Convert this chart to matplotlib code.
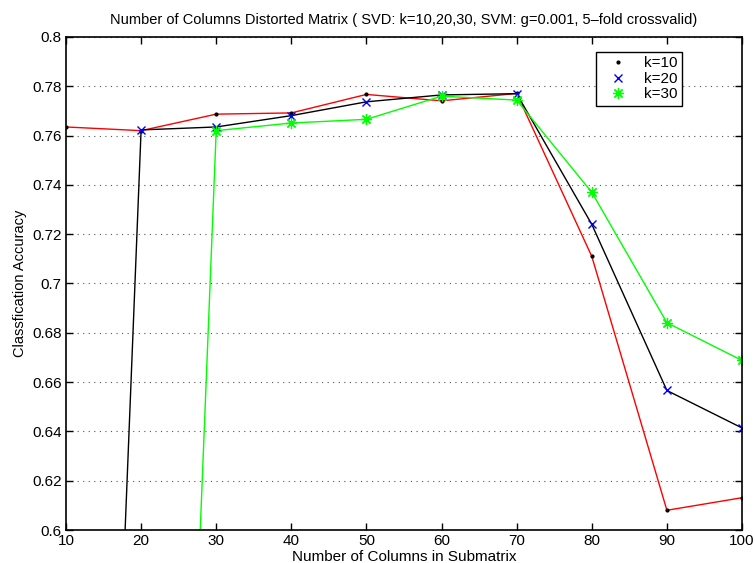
import numpy as np
import matplotlib.pyplot as plt

plt.rcParams['font.family'] = ['Liberation Sans', 'DejaVu Sans']

# Number of columns in the submatrix
cols = [10, 20, 30, 40, 50, 60, 70, 80, 90, 100]

# Classification accuracy for each SVD rank (0 = no result)
acc_k10 = [0.7635, 0.7620, 0.7687, 0.7692, 0.7767, 0.7741, 0.7771, 0.7110, 0.6080, 0.6131]
acc_k20 = [0.0, 0.7623, 0.7635, 0.7681, 0.7737, 0.7765, 0.7770, 0.7240, 0.6566, 0.6414]
acc_k30 = [0.0, 0.0, 0.7620, 0.7651, 0.7666, 0.7760, 0.7744, 0.7370, 0.6841, 0.6688]

fig = plt.figure(figsize=(7.55, 5.63), dpi=100)
ax = fig.add_axes([0.0874, 0.0586, 0.8954, 0.8757])

# connecting lines
ax.plot(cols, acc_k10, color='red', lw=1.0, label='_nolegend_')
ax.plot(cols, acc_k20, color='black', lw=1.0, label='_nolegend_')
ax.plot(cols, acc_k30, color='#00ff00', lw=1.0, label='_nolegend_')

# markers
ax.plot(cols, acc_k10, 'k.', ms=4, label='k=10')
ax.plot(cols, acc_k20, 'x', color='blue', ms=6, mew=1.0, label='k=20')
ax.plot(cols, acc_k30, marker=(8, 2, 0), ls='none', color='#00ff00', ms=8, mew=0.9, label='k=30')

ax.set_xlim(10, 100)
ax.set_ylim(0.6, 0.8)
ax.set_xticks(np.arange(10, 101, 10))
ax.set_yticks(np.arange(0.6, 0.801, 0.02))
ax.set_yticklabels(['0.6', '0.62', '0.64', '0.66', '0.68', '0.7', '0.72', '0.74', '0.76', '0.78', '0.8'])
ax.tick_params(direction='in', top=True, right=True, labelsize=11, length=5, width=1, pad=3)
for s in ax.spines.values():
    s.set_linewidth(1.2)
ax.yaxis.grid(True, linestyle=(0, (1, 4)), color='#555555', lw=0.8)

ax.set_title('Number of Columns Distorted Matrix ( SVD: k=10,20,30, SVM: g=0.001, 5–fold crossvalid)',
             fontsize=10.5, pad=9)
ax.set_xlabel('Number of Columns in Submatrix', fontsize=11, labelpad=1)
ax.set_ylabel('Classfication Accuracy', fontsize=10.5, labelpad=4)

leg = ax.legend(loc='upper right', bbox_to_anchor=(0.911, 0.970), borderaxespad=0, fontsize=11,
                fancybox=False, framealpha=1, edgecolor='black', handlelength=2.2,
                borderpad=0.3, labelspacing=0.1, handletextpad=0.6)
leg.get_frame().set_linewidth(1.0)

fig.savefig('out.png', dpi=100)
